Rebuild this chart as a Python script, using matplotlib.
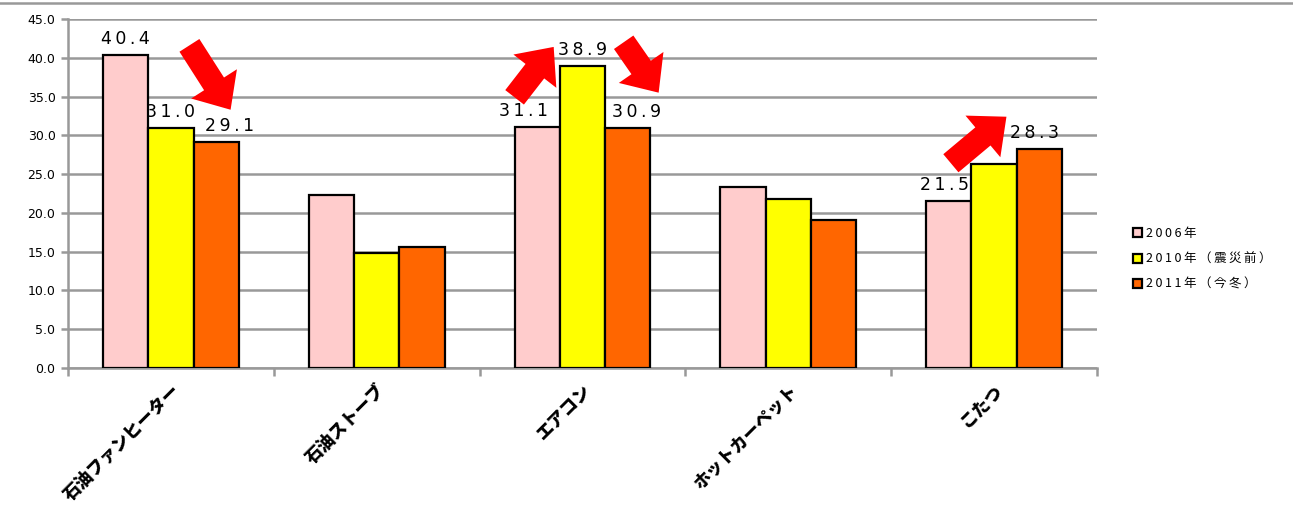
import matplotlib
matplotlib.use("Agg")
import matplotlib.pyplot as plt
from matplotlib.lines import Line2D
import numpy as np

plt.rcParams['font.family'] = ['DejaVu Sans', 'Noto Sans CJK JP']

categories = ['石油ファンヒーター', '石油ストーブ', 'エアコン', 'ホットカーペット', 'こたつ']
series_names = ['2006年', '2010年（震災前）', '2011年（今冬）']
v2006 = [40.4, 22.3, 31.1, 23.3, 21.5]
v2010 = [31.0, 14.8, 38.9, 21.8, 26.3]
v2011 = [29.1, 15.6, 30.9, 19.1, 28.3]
colors = ['#ffcccc', '#ffff00', '#ff6600']

# which bars get a value label: (series index, category index, x shift in bar widths)
labelled = [(0, 0, 0.0), (1, 0, 0.0), (2, 0, 0.3),
            (0, 2, -0.3), (1, 2, 0.0), (2, 2, 0.2),
            (0, 4, -0.1), (2, 4, -0.1)]

# trend arrows (tail -> head) in data coords
arrows = [((0.09, 41.6), (0.29, 33.3)),
          ((1.67, 34.9), (1.86, 41.4)),
          ((2.20, 42.0), (2.37, 35.5)),
          ((3.79, 26.4), (4.06, 32.4))]

fig = plt.figure(figsize=(12.93, 5.07), dpi=100)
ax = fig.add_axes([68 / 1293, 139 / 507, 1029 / 1293, 349 / 507])

x = np.arange(len(categories))
w = 0.22
data = [v2006, v2010, v2011]
bars = []
for i, (vals, c) in enumerate(zip(data, colors)):
    b = ax.bar(x + (i - 1) * w, vals, w, color=c, edgecolor='black',
               linewidth=1.6, label=series_names[i], zorder=3)
    bars.append(b)

for s, ci, dx in labelled:
    val = data[s][ci]
    txt = '\u2009'.join(f'{val:.1f}')
    ax.annotate(txt, (x[ci] + (s - 1) * w + dx * w, val), xytext=(0, 5),
                textcoords='offset points', ha='center', va='bottom',
                fontsize=12.5, zorder=5)

for tail, head in arrows:
    ax.annotate('', xy=head, xytext=tail,
                arrowprops=dict(arrowstyle='simple,head_width=2.3,head_length=1.3,tail_width=1.0',
                                mutation_scale=17, color='red', lw=0,
                                shrinkA=0, shrinkB=0), zorder=6)

ax.set_xlim(-0.5, 4.5)
ax.set_ylim(0, 45)
ax.set_yticks(np.arange(0, 45.1, 5))
ax.set_yticklabels([f'{t:.1f}' for t in np.arange(0, 45.1, 5)], fontsize=9)
ax.yaxis.grid(True, color='#999999', linewidth=1.8, zorder=0)
ax.set_axisbelow(True)

ax.set_xticks(np.arange(-0.5, 4.6, 1))
ax.set_xticklabels([])
ax.tick_params(axis='x', length=6, width=1.8, color='#999999')
ax.tick_params(axis='y', length=5, width=1.8, color='#999999', pad=4)
for t, name in zip(x, categories):
    ax.text(t, -1.7, name, rotation=45, ha='right', va='top',
            rotation_mode='anchor', fontsize=12.5, fontweight='heavy',
            family=['Noto Sans CJK JP'])

ax.spines['top'].set_visible(False)
ax.spines['right'].set_visible(False)
for sp in ('left', 'bottom'):
    ax.spines[sp].set_color('#999999')
    ax.spines[sp].set_linewidth(1.8)

fig.add_artist(Line2D([0, 1], [1 - 3 / 507, 1 - 3 / 507], color='#999999', linewidth=1.8))

leg_labels = ['\u2009'.join(n) for n in series_names]
fig.legend(handles=bars, labels=leg_labels, loc='center left',
           bbox_to_anchor=(1122 / 1293, 1 - 259 / 507), frameon=False,
           prop={'family': ['Noto Sans CJK JP', 'DejaVu Sans'], 'size': 9},
           handlelength=0.7, handleheight=0.7, handletextpad=0.3, labelspacing=1.0)

fig.savefig('out.png', dpi=100)
